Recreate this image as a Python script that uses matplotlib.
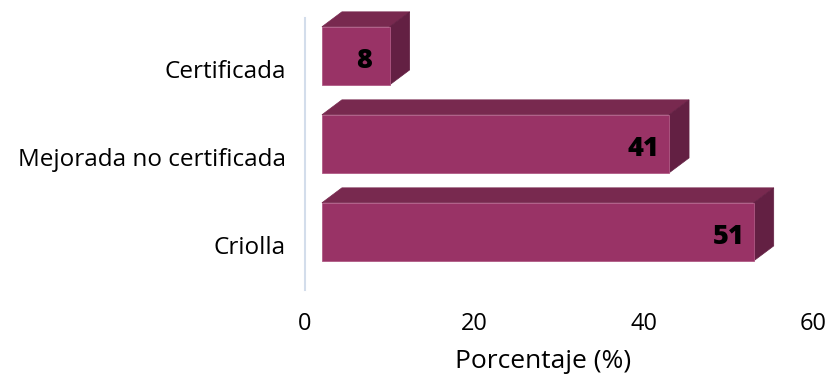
import matplotlib.pyplot as plt
from matplotlib.patches import Polygon

# --- Data ---
categories = ['Criolla', 'Mejorada no certificada', 'Certificada']
values = [51, 41, 8]
x_ticks = [0, 20, 40, 60]
x_label = 'Porcentaje (%)'

# --- Style ---
FRONT = '#993366'
TOP = '#78294F'
SIDE = '#632043'
AXIS_LINE = '#D3DDEB'
FONT = ['Open Sans', 'DejaVu Sans']

plt.rcParams['font.family'] = FONT

fig = plt.figure(figsize=(8.33, 3.79), dpi=100)
ax = fig.add_axes([305 / 833, 89 / 379, 508 / 833, 272 / 379])

x_offset = 2.0        # gap between axis and front face (data units)
depth_x = 2.36        # 3D depth, horizontal
depth_y = 0.17        # 3D depth, vertical
face_c = 0.15         # front face centre relative to category
face_h = 0.66

for i, v in enumerate(values):
    x0, x1 = x_offset, x_offset + v
    y0, y1 = i + face_c - face_h / 2, i + face_c + face_h / 2
    front = Polygon([(x0, y0), (x1, y0), (x1, y1), (x0, y1)], closed=True,
                    facecolor=FRONT, edgecolor='#B05A85', lw=0.6, zorder=3, clip_on=False)
    top = Polygon([(x0, y1), (x1, y1), (x1 + depth_x, y1 + depth_y), (x0 + depth_x, y1 + depth_y)],
                  closed=True, facecolor=TOP, edgecolor=TOP, lw=0.5, zorder=2, clip_on=False)
    side = Polygon([(x1, y0), (x1 + depth_x, y0 + depth_y), (x1 + depth_x, y1 + depth_y), (x1, y1)],
                   closed=True, facecolor=SIDE, edgecolor=SIDE, lw=0.5, zorder=2, clip_on=False)
    ax.add_patch(top)
    ax.add_patch(side)
    ax.add_patch(front)
    ax.text(v - 1.0, i + face_c - 0.06, str(v), ha='center', va='center',
            fontsize=19.5, fontweight='heavy', color='black', zorder=4)

ax.set_xlim(0, 60)
ax.set_ylim(-0.511, 2.58)
ax.set_xticks(x_ticks)
ax.set_xticklabels([str(t) for t in x_ticks], fontsize=17)
ax.set_yticks(range(len(categories)))
ax.set_yticklabels(categories, fontsize=17.5)
ax.tick_params(axis='both', length=0, colors='black')
ax.tick_params(axis='y', pad=14)
ax.tick_params(axis='x', pad=16)
ax.set_xlabel(x_label, fontsize=19)
ax.xaxis.set_label_coords(0.469, -0.262)
ax.xaxis.label.set_va('center')

for s in ['top', 'right', 'bottom']:
    ax.spines[s].set_visible(False)
ax.spines['left'].set_color(AXIS_LINE)
ax.spines['left'].set_linewidth(1.5)
ax.patch.set_alpha(0)

fig.savefig('out.png', dpi=100)
